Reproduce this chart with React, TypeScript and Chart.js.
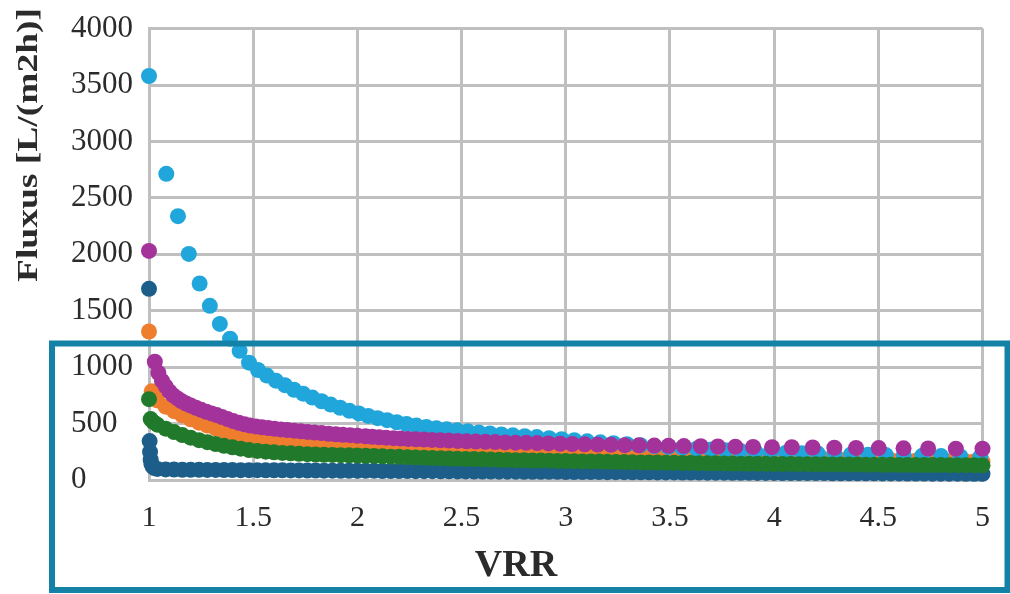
import React, { useEffect, useRef } from 'react';
import { Chart, registerables } from 'chart.js';

Chart.register(...registerables);

// ---------- data ----------
const xTickLabels = ['1', '1.5', '2', '2.5', '3', '3.5', '4', '4.5', '5'];
const yTickLabels = ['0', '500', '1000', '1500', '2000', '2500', '3000', '3500', '4000'];
const xAxisTitle = 'VRR';
const yAxisTitle = 'Fluxus [L/(m2h)]';

const lightBlueX = [1.000, 1.083, 1.139, 1.191, 1.243, 1.292, 1.340, 1.389, 1.435, 1.480, 1.523, 1.566, 1.609, 1.652, 1.696, 1.740, 1.784, 1.828, 1.872, 1.917, 1.962, 2.007, 2.052, 2.097, 2.143, 2.189, 2.236, 2.283, 2.331, 2.379, 2.429, 2.479, 2.530, 2.583, 2.636, 2.691, 2.746, 2.803, 2.861, 2.920, 2.980, 3.041, 3.103, 3.166, 3.229, 3.294, 3.359, 3.425, 3.492, 3.560, 3.628, 3.697, 3.767, 3.838, 3.910, 3.983, 4.057, 4.133, 4.210, 4.289, 4.369, 4.451, 4.536, 4.622, 4.711, 4.801, 4.894, 4.990];
const lightBlueY = [3580, 2713, 2338, 2003, 1741, 1543, 1383, 1252, 1145, 1040, 975, 925, 880, 840, 800, 765, 730, 698, 668, 640, 613, 590, 568, 548, 530, 512, 496, 482, 470, 459, 449, 440, 431, 422, 413, 404, 396, 388, 380, 371, 362, 352, 343, 334, 326, 317, 309, 301, 292, 284, 277, 270, 263, 257, 251, 246, 242, 238, 234, 230, 227, 224, 221, 218, 215, 212, 209, 206];

const purpleX = [1.000, 1.028, 1.045, 1.062, 1.080, 1.098, 1.115, 1.135, 1.155, 1.178, 1.200, 1.225, 1.250, 1.275, 1.300, 1.325, 1.350, 1.377, 1.404, 1.431, 1.458, 1.485, 1.513, 1.542, 1.572, 1.602, 1.633, 1.664, 1.696, 1.728, 1.761, 1.794, 1.828, 1.862, 1.896, 1.930, 1.965, 2.000, 2.039, 2.071, 2.104, 2.138, 2.173, 2.208, 2.244, 2.281, 2.319, 2.358, 2.398, 2.439, 2.481, 2.524, 2.568, 2.614, 2.661, 2.709, 2.759, 2.810, 2.863, 2.917, 2.973, 3.031, 3.091, 3.153, 3.217, 3.283, 3.351, 3.425, 3.493, 3.567, 3.648, 3.730, 3.814, 3.899, 3.990, 4.085, 4.185, 4.289, 4.393, 4.502, 4.621, 4.739, 4.872, 5.000];
const purpleY = [2030, 1048, 950, 880, 830, 785, 752, 725, 700, 678, 660, 640, 622, 605, 590, 575, 558, 540, 522, 507, 494, 483, 475, 467, 460, 454, 448, 442, 437, 432, 426, 421, 416, 410, 405, 401, 397, 392, 387, 383, 379, 375, 371, 367, 364, 361, 358, 355, 352, 349, 346, 343, 341, 338, 336, 333, 331, 329, 327, 324, 321, 319, 316, 314, 312, 309, 307, 305, 303, 301, 299, 297, 295, 293, 291, 290, 288, 286, 284, 283, 281, 279, 278, 277];

// common VRR sampling of the three dense series (after their first few points)
const bandX = [
  1.04, 1.08, 1.12, 1.16, 1.20, 1.24, 1.28, 1.32, 1.36, 1.40,
  1.44, 1.48, 1.52, 1.56, 1.60, 1.64, 1.68, 1.72, 1.76, 1.80,
  1.84, 1.88, 1.92, 1.96, 2.00, 2.04, 2.08, 2.12, 2.16, 2.20,
  2.24, 2.28, 2.32, 2.36, 2.40, 2.44, 2.48, 2.52, 2.56, 2.60,
  2.64, 2.68, 2.72, 2.76, 2.80, 2.84, 2.88, 2.92, 2.96, 3.00,
  3.04, 3.08, 3.12, 3.16, 3.20, 3.24, 3.28, 3.32, 3.36, 3.40,
  3.44, 3.48, 3.52, 3.56, 3.60, 3.64, 3.68, 3.72, 3.76, 3.80,
  3.84, 3.88, 3.92, 3.96, 4.00, 4.04, 4.08, 4.12, 4.16, 4.20,
  4.24, 4.28, 4.32, 4.36, 4.40, 4.44, 4.48, 4.52, 4.56, 4.60,
  4.64, 4.68, 4.72, 4.76, 4.80, 4.84, 4.88, 4.92, 4.96, 5.00,
];

const orangeStartX = [1.000, 1.013, 1.025];
const orangeStartY = [1316, 786, 745];
const orangeBandY = [
  705, 650, 610, 572, 538, 508, 482, 458, 436, 416,
  388, 372, 360, 350, 342, 335, 329, 324, 319, 315,
  311, 307, 304, 301, 298, 295, 292, 288, 285, 282,
  278, 275, 271, 268, 265, 262, 259, 256, 253, 250,
  248, 245, 243, 241, 238, 236, 234, 232, 230, 228,
  226, 224, 222, 221, 219, 217, 216, 214, 213, 211,
  210, 208, 207, 206, 204, 203, 201, 200, 198, 197,
  196, 194, 193, 191, 190, 189, 188, 186, 185, 184,
  183, 181, 180, 179, 178, 177, 176, 175, 174, 173,
  172, 171, 170, 169, 168, 167, 166, 165, 164, 163,
];

const greenStartX = [1.000, 1.008, 1.020];
const greenStartY = [716, 540, 515];
const greenBandY = [
  490, 455, 425, 398, 375, 353, 335, 318, 303, 290,
  278, 266, 258, 251, 245, 240, 236, 232, 229, 226,
  224, 222, 220, 219, 217, 215, 213, 210, 207, 205,
  202, 200, 197, 195, 193, 190, 188, 186, 185, 183,
  181, 179, 177, 176, 175, 173, 172, 171, 169, 168,
  167, 165, 164, 163, 161, 160, 159, 157, 156, 155,
  154, 153, 152, 151, 150, 149, 148, 148, 147, 146,
  145, 144, 144, 143, 142, 142, 141, 140, 140, 139,
  139, 138, 138, 137, 137, 136, 136, 135, 135, 134,
  134, 133, 133, 132, 132, 131, 131, 131, 130, 130,
];

const darkBlueStartX = [1.000, 1.003, 1.005, 1.008, 1.012, 1.018, 1.026];
const darkBlueStartY = [1694, 345, 250, 180, 140, 118, 106];
const darkBlueBandY = [
  98, 94, 92, 91, 90, 90, 89, 89, 88, 88,
  87, 87, 87, 86, 86, 86, 85, 85, 84, 84,
  83, 83, 82, 82, 82, 81, 81, 80, 80, 79,
  79, 78, 78, 78, 77, 77, 76, 76, 75, 75,
  75, 74, 74, 74, 73, 73, 72, 72, 72, 71,
  71, 70, 70, 70, 69, 69, 69, 68, 68, 68,
  67, 67, 67, 66, 66, 66, 65, 65, 65, 64,
  64, 64, 63, 63, 63, 62, 62, 62, 61, 61,
  61, 60, 60, 60, 59, 59, 59, 58, 58, 58,
  57, 57, 57, 56, 56, 56, 56, 55, 55, 55,
];

// ---------- styles ----------
const SERIF = '"Liberation Serif", "Times New Roman", serif';
const GRID = '#bfbfbf';
const TEXT = '#2b2b2b';

const pts = (xs: number[], ys: number[]) => xs.map((x, i) => ({ x, y: ys[i] }));

const overlayPlugin = {
  id: 'overlay',
  afterDraw(chart: any) {
    const ctx = chart.ctx as CanvasRenderingContext2D;
    ctx.save();
    ctx.fillStyle = TEXT;
    ctx.textAlign = 'center';
    ctx.textBaseline = 'middle';
    ctx.font = `bold 30px ${SERIF}`;
    ctx.translate(29, 145);
    ctx.rotate(-Math.PI / 2);
    ctx.scale(1.25, 1);
    ctx.fillText(yAxisTitle, 0, 0);
    ctx.restore();

    ctx.save();
    ctx.fillStyle = TEXT;
    ctx.textAlign = 'center';
    ctx.textBaseline = 'middle';
    ctx.font = `bold 38px ${SERIF}`;
    ctx.fillText(xAxisTitle, 516, 566);
    ctx.restore();

    ctx.save();
    ctx.strokeStyle = '#1481a6';
    ctx.lineWidth = 6;
    ctx.strokeRect(52, 343.5, 1007.5 - 52, 590 - 343.5);
    ctx.restore();
  },
};

export default function App() {
  const ref = useRef<HTMLCanvasElement>(null);
  useEffect(() => {
    if (!ref.current) return;
    const mk = (data: any[], color: string) => ({
      data,
      backgroundColor: color,
      borderColor: color,
      borderWidth: 0,
      pointRadius: 8,
      pointHoverRadius: 8,
      clip: false as any,
    });
    const chart = new Chart(ref.current, {
      type: 'scatter',
      data: {
        datasets: [
          mk(pts([...greenStartX, ...bandX], [...greenStartY, ...greenBandY]), '#217a2c'),
          mk(pts([...darkBlueStartX, ...bandX], [...darkBlueStartY, ...darkBlueBandY]), '#1c5e89'),
          mk(pts(purpleX, purpleY), '#a3329b'),
          mk(pts(lightBlueX, lightBlueY), '#21a6db'),
          mk(pts([...orangeStartX, ...bandX], [...orangeStartY, ...orangeBandY]), '#ef7d2e'),
        ],
      },
      options: {
        responsive: false,
        animation: false,
        events: [],
        layout: { padding: { left: 71, top: 22, right: 17, bottom: 0 } },
        plugins: { legend: { display: false }, tooltip: { enabled: false }, title: { display: false } },
        scales: {
          x: {
            type: 'linear',
            min: 1,
            max: 5,
            afterFit: (s: any) => { s.height = 114; },
            ticks: {
              stepSize: 0.5,
              autoSkip: false,
              maxRotation: 0,
              padding: 20,
              color: TEXT,
              font: { family: SERIF, size: 30 },
              callback: (_v: any, i: number) => xTickLabels[i],
            },
            grid: { color: GRID, lineWidth: 3, drawTicks: false },
            border: { color: GRID, width: 3 },
          },
          y: {
            type: 'linear',
            min: 0,
            max: 4000,
            afterFit: (s: any) => { s.width = 78; },
            ticks: {
              stepSize: 500,
              crossAlign: 'far',
              padding: 10,
              color: TEXT,
              font: { family: SERIF, size: 31 },
              callback: (_v: any, i: number) => yTickLabels[i],
            },
            grid: { color: GRID, lineWidth: 3, drawTicks: false },
            border: { color: GRID, width: 3 },
          },
        },
      },
      plugins: [overlayPlugin],
    });
    return () => chart.destroy();
  }, []);
  return (
    <div style={{ position: 'fixed', left: 0, top: 0, width: 1010, height: 594, background: '#fff' }}>
      <canvas ref={ref} width={1010} height={594} style={{ display: 'block' }} />
    </div>
  );
}
